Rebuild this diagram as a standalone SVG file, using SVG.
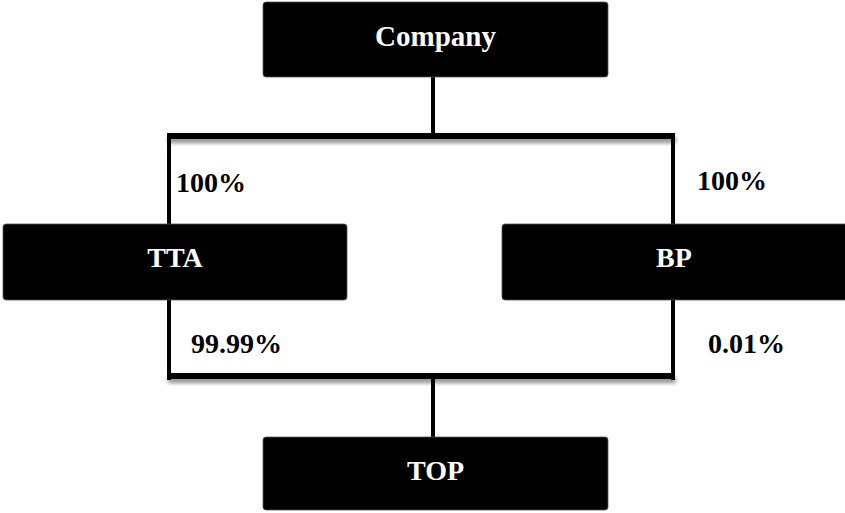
<svg xmlns="http://www.w3.org/2000/svg" width="845" height="513" viewBox="0 0 845 513">
<defs>
<filter id="sh" x="-5%" y="-100%" width="110%" height="400%">
<feGaussianBlur in="SourceAlpha" stdDeviation="2"/>
<feOffset dx="1" dy="4" result="b"/>
<feComponentTransfer><feFuncA type="linear" slope="0.45"/></feComponentTransfer>
<feMerge><feMergeNode/><feMergeNode in="SourceGraphic"/></feMerge>
</filter>
</defs>
<style>
.box{fill:#000;stroke:#555;stroke-width:0.8}
.bt{font-family:"Liberation Serif","Times New Roman",serif;font-weight:bold;font-size:28px;fill:#fff;text-anchor:middle}
.pt{font-family:"Liberation Serif","Times New Roman",serif;font-weight:bold;font-size:28px;fill:#000}
.v{stroke:#000;stroke-width:4;fill:none}
.h{stroke:#000;stroke-width:6;fill:none}
</style>
<g id="connectors">
<line class="v" x1="433" y1="77" x2="433" y2="134"/>
<line class="v" x1="433" y1="378" x2="433" y2="437"/>
<line class="v" x1="169" y1="133" x2="169" y2="380"/>
<line class="v" x1="673" y1="133" x2="673" y2="380"/>
<g filter="url(#sh)">
<line class="h" x1="167" y1="136" x2="675" y2="136"/>
<line class="h" x1="167" y1="376" x2="675" y2="376"/>
</g>
</g>
<g id="labels">
<text class="pt" x="176" y="192">100%</text>
<text class="pt" x="697" y="190">100%</text>
<text class="pt" x="191" y="353">99.99%</text>
<text class="pt" x="708" y="353">0.01%</text>
</g>
<g id="company">
<rect class="box" x="263" y="2" width="345" height="75" rx="3"/>
<text class="bt" x="435.5" y="46" style="font-size:29px">Company</text>
</g>
<g id="tta">
<rect class="box" x="3" y="224" width="344" height="76" rx="3"/>
<text class="bt" x="175" y="267">TTA</text>
</g>
<g id="bp">
<rect class="box" x="502" y="224" width="350" height="76" rx="3"/>
<text class="bt" x="674" y="267">BP</text>
</g>
<g id="top">
<rect class="box" x="263" y="437" width="345" height="73" rx="3"/>
<text class="bt" x="435.5" y="480">TOP</text>
</g>
</svg>
